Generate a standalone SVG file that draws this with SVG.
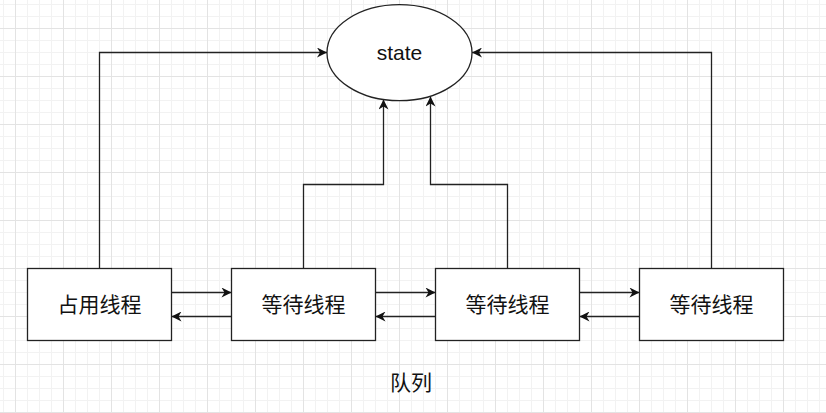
<svg xmlns="http://www.w3.org/2000/svg" width="826" height="413" viewBox="0 0 826 413">
<style>
.n{fill:#fff;stroke:#222;stroke-width:1.3}
.c{fill:none;stroke:#222;stroke-width:1.3}
.t{font-family:"Liberation Sans","Noto Sans CJK SC",sans-serif;font-size:21px;fill:#111;text-anchor:middle;dominant-baseline:central}
</style>
<defs>
<pattern id="grid" patternUnits="userSpaceOnUse" x="15" y="28" width="48" height="48">
<path d="M12.5 0V48M24.5 0V48M36.5 0V48M0 12.5H48M0 24.5H48M0 36.5H48" stroke="#f2f2f2" stroke-width="1" fill="none"/>
<path d="M0.5 0V48M0 0.5H48" stroke="#e3e3e3" stroke-width="1" fill="none"/>
</pattern>
<marker id="arr" viewBox="0 0 10 10" refX="10" refY="5" markerUnits="userSpaceOnUse" markerWidth="11" markerHeight="10" orient="auto">
<path d="M0,0 L10,5 L0,10 L3,5 Z" fill="#111"/>
</marker>
</defs>
<rect width="826" height="413" fill="#fff"/>
<rect width="826" height="413" fill="url(#grid)"/>
<g id="connectors">
<path class="c" d="M99.5 268.5V52.5H327" marker-end="url(#arr)"/>
<path class="c" d="M303.5 268.5V184.5H383.5V99.5" marker-end="url(#arr)"/>
<path class="c" d="M507.5 268.5V184.5H430.5V96.5" marker-end="url(#arr)"/>
<path class="c" d="M711.5 268.5V52.5H472" marker-end="url(#arr)"/>
<path class="c" d="M171.5 292.5H231.5" marker-end="url(#arr)"/>
<path class="c" d="M231.5 316.5H171.5" marker-end="url(#arr)"/>
<path class="c" d="M375.5 292.5H435.5" marker-end="url(#arr)"/>
<path class="c" d="M435.5 316.5H375.5" marker-end="url(#arr)"/>
<path class="c" d="M579.5 292.5H639.5" marker-end="url(#arr)"/>
<path class="c" d="M639.5 316.5H579.5" marker-end="url(#arr)"/>
</g>
<g id="state">
<ellipse class="n" cx="399.5" cy="52.7" rx="72.5" ry="48"/>
<text class="t" x="399.5" y="52.7">state</text>
</g>
<g id="owner">
<rect class="n" x="27.5" y="268.5" width="144" height="72"/>
<text class="t" x="99.5" y="304.5">占用线程</text>
</g>
<g id="wait1">
<rect class="n" x="231.5" y="268.5" width="144" height="72"/>
<text class="t" x="303.5" y="304.5">等待线程</text>
</g>
<g id="wait2">
<rect class="n" x="435.5" y="268.5" width="144" height="72"/>
<text class="t" x="507.5" y="304.5">等待线程</text>
</g>
<g id="wait3">
<rect class="n" x="639.5" y="268.5" width="144" height="72"/>
<text class="t" x="711.5" y="304.5">等待线程</text>
</g>
<g id="queue-label">
<text class="t" x="411" y="382">队列</text>
</g>
</svg>
